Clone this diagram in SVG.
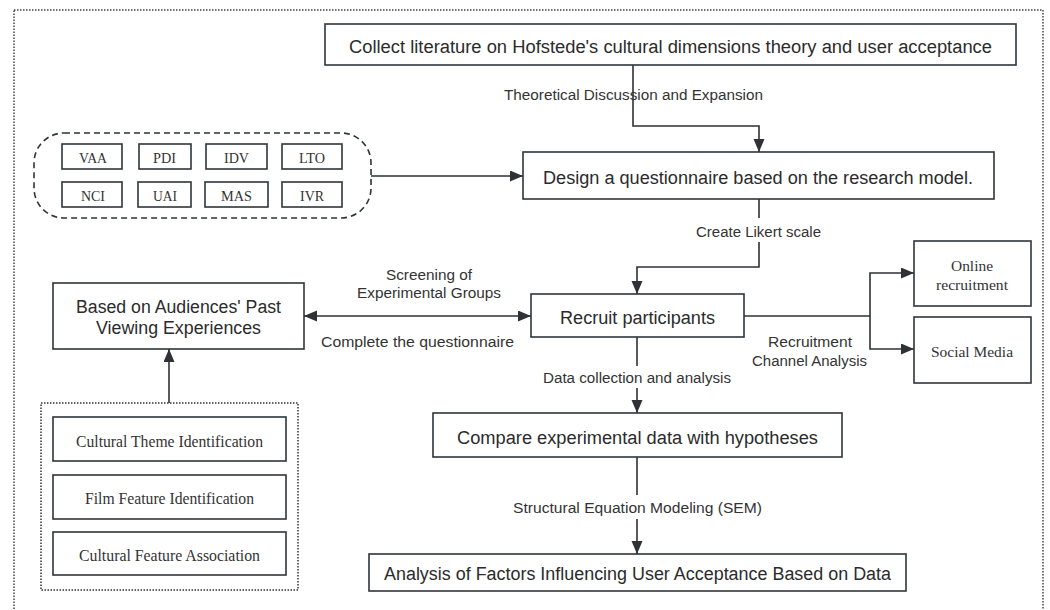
<svg xmlns="http://www.w3.org/2000/svg" width="1050" height="610" viewBox="0 0 1050 610">
<defs>
<marker id="ah" markerUnits="userSpaceOnUse" markerWidth="14" markerHeight="12" refX="13" refY="5.5" orient="auto-start-reverse"><path d="M0,0 L13,5.5 L0,11 z" fill="#2e3135"/></marker>
<style>
.box{fill:#fff;stroke:#2f353b;stroke-width:1.6}
.ln{fill:none;stroke:#2e3135;stroke-width:1.6}
.main{font-family:"Liberation Sans",Arial,sans-serif;font-size:18px;fill:#2b2b2b}
.lbl{font-family:"Liberation Sans",Arial,sans-serif;font-size:15.5px;fill:#333}
.ser{font-family:"Liberation Serif","Times New Roman",serif;fill:#333}
</style>
</defs>
<rect width="1050" height="610" fill="#fff"/>
<rect x="14" y="10" width="1029" height="610" fill="none" stroke="#444" stroke-width="1.5" stroke-dasharray="1.5 1.5"/>

<g id="connectors">
<path class="ln" d="M633,65 V126 H759 V152" marker-end="url(#ah)"/>
<path class="ln" d="M371,176 H523" marker-end="url(#ah)"/>
<path class="ln" d="M759,199 V267 H637 V294" marker-end="url(#ah)"/>
<path class="ln" d="M304,316 H531" marker-start="url(#ah)" marker-end="url(#ah)"/>
<path class="ln" d="M744,316 H870"/>
<path class="ln" d="M870,316 V273 H914" marker-end="url(#ah)"/>
<path class="ln" d="M870,316 V349 H914" marker-end="url(#ah)"/>
<path class="ln" d="M637,337 V413" marker-end="url(#ah)"/>
<path class="ln" d="M637,457 V554" marker-end="url(#ah)"/>
<path class="ln" d="M169,403 V349" marker-end="url(#ah)"/>
<rect x="690" y="218" width="138" height="24" fill="#fff"/>
<rect x="540" y="366" width="194" height="22" fill="#fff"/>
<rect x="508" y="495" width="259" height="24" fill="#fff"/>
<text class="lbl" x="504" y="100" textLength="259" lengthAdjust="spacingAndGlyphs">Theoretical Discussion and Expansion</text>
<text class="lbl" x="696" y="237" textLength="125" lengthAdjust="spacingAndGlyphs">Create Likert scale</text>
<text class="lbl" x="386" y="280" textLength="86" lengthAdjust="spacingAndGlyphs">Screening of</text>
<text class="lbl" x="357" y="298" textLength="144" lengthAdjust="spacingAndGlyphs">Experimental Groups</text>
<text class="lbl" x="321" y="347" textLength="193" lengthAdjust="spacingAndGlyphs">Complete the questionnaire</text>
<text class="lbl" x="768" y="347" textLength="84" lengthAdjust="spacingAndGlyphs">Recruitment</text>
<text class="lbl" x="752" y="366" textLength="115" lengthAdjust="spacingAndGlyphs">Channel Analysis</text>
<text class="lbl" x="543" y="383" textLength="188" lengthAdjust="spacingAndGlyphs">Data collection and analysis</text>
<text class="lbl" x="513" y="513" textLength="249" lengthAdjust="spacingAndGlyphs">Structural Equation Modeling (SEM)</text>
</g>

<g id="collect">
<rect class="box" x="325" y="24" width="691" height="41"/>
<text class="main" x="349" y="53" textLength="643" lengthAdjust="spacingAndGlyphs">Collect literature on Hofstede's cultural dimensions theory and user acceptance</text>
</g>

<g id="dimensions">
<rect x="34" y="133" width="337" height="85" rx="30" ry="30" fill="none" stroke="#2f353b" stroke-width="1.6" stroke-dasharray="6 4"/>
<g id="vaa"><rect class="box" x="62" y="144" width="60" height="25"/><text class="ser" x="79" y="163" font-size="15" textLength="28" lengthAdjust="spacingAndGlyphs">VAA</text></g>
<g id="pdi"><rect class="box" x="139" y="144" width="52" height="25"/><text class="ser" x="153" y="163" font-size="15" textLength="23" lengthAdjust="spacingAndGlyphs">PDI</text></g>
<g id="idv"><rect class="box" x="206" y="144" width="61" height="25"/><text class="ser" x="224" y="163" font-size="15" textLength="25" lengthAdjust="spacingAndGlyphs">IDV</text></g>
<g id="lto"><rect class="box" x="282" y="144" width="60" height="25"/><text class="ser" x="299" y="163" font-size="15" textLength="26" lengthAdjust="spacingAndGlyphs">LTO</text></g>
<g id="nci"><rect class="box" x="62" y="182" width="60" height="25"/><text class="ser" x="81" y="201" font-size="15" textLength="24" lengthAdjust="spacingAndGlyphs">NCI</text></g>
<g id="uai"><rect class="box" x="138" y="182" width="53" height="25"/><text class="ser" x="153" y="201" font-size="15" textLength="24" lengthAdjust="spacingAndGlyphs">UAI</text></g>
<g id="mas"><rect class="box" x="205" y="182" width="63" height="25"/><text class="ser" x="221" y="201" font-size="15" textLength="31" lengthAdjust="spacingAndGlyphs">MAS</text></g>
<g id="ivr"><rect class="box" x="282" y="182" width="60" height="25"/><text class="ser" x="300" y="201" font-size="15" textLength="24" lengthAdjust="spacingAndGlyphs">IVR</text></g>
</g>

<g id="design">
<rect class="box" x="523" y="152" width="471" height="47"/>
<text class="main" x="543" y="184" textLength="430" lengthAdjust="spacingAndGlyphs">Design a questionnaire based on the research model.</text>
</g>

<g id="based">
<rect class="box" x="53" y="283" width="251" height="66"/>
<text class="main" x="76" y="313" textLength="205" lengthAdjust="spacingAndGlyphs">Based on Audiences' Past</text>
<text class="main" x="96" y="334" textLength="165" lengthAdjust="spacingAndGlyphs">Viewing Experiences</text>
</g>

<g id="recruit">
<rect class="box" x="531" y="294" width="213" height="43"/>
<text class="main" x="560" y="324" textLength="155" lengthAdjust="spacingAndGlyphs">Recruit participants</text>
</g>

<g id="online">
<rect class="box" x="914" y="241" width="117" height="65"/>
<text class="ser" x="951" y="271" font-size="14.5" textLength="42" lengthAdjust="spacingAndGlyphs">Online</text>
<text class="ser" x="936" y="290" font-size="14.5" textLength="72" lengthAdjust="spacingAndGlyphs">recruitment</text>
</g>

<g id="social">
<rect class="box" x="914" y="317" width="117" height="66"/>
<text class="ser" x="931" y="357" font-size="14.5" textLength="82" lengthAdjust="spacingAndGlyphs">Social Media</text>
</g>

<g id="compare">
<rect class="box" x="433" y="413" width="409" height="44"/>
<text class="main" x="457" y="444" textLength="361" lengthAdjust="spacingAndGlyphs">Compare experimental data with hypotheses</text>
</g>

<g id="analysis">
<rect class="box" x="369" y="554" width="537" height="37"/>
<text class="main" x="384" y="580" textLength="507" lengthAdjust="spacingAndGlyphs">Analysis of Factors Influencing User Acceptance Based on Data</text>
</g>

<g id="features">
<rect x="41" y="403" width="257" height="187" fill="none" stroke="#333" stroke-width="1.5" stroke-dasharray="1.5 1.5"/>
<g id="theme"><rect class="box" x="53" y="417" width="233" height="44"/><text class="ser" x="76" y="447" font-size="16.5" textLength="187" lengthAdjust="spacingAndGlyphs">Cultural Theme Identification</text></g>
<g id="film"><rect class="box" x="53" y="475" width="233" height="44"/><text class="ser" x="85" y="504" font-size="16.5" textLength="169" lengthAdjust="spacingAndGlyphs">Film Feature Identification</text></g>
<g id="assoc"><rect class="box" x="53" y="532" width="233" height="43"/><text class="ser" x="79" y="561" font-size="16.5" textLength="181" lengthAdjust="spacingAndGlyphs">Cultural Feature Association</text></g>
</g>
</svg>
